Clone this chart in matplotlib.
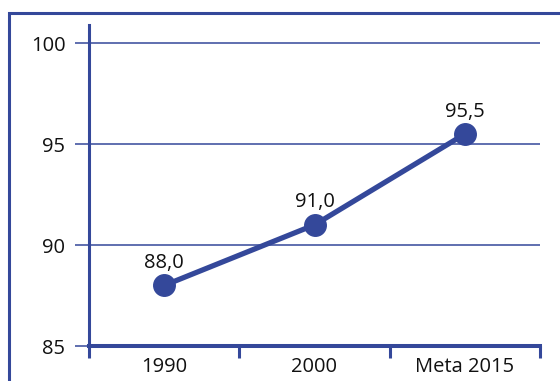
import matplotlib.pyplot as plt
from matplotlib.patches import Rectangle

# taxa por ano
categories = ["1990", "2000", "Meta 2015"]
values = [88.0, 91.0, 95.5]
yticks = [85, 90, 95, 100]

blue = "#34489a"
plt.rcParams["font.family"] = ["Open Sans", "DejaVu Sans"]

fig = plt.figure(figsize=(5.6, 3.81), dpi=100)
ax = fig.add_axes([89 / 560, 35 / 381, 451 / 560, 321 / 381])

# moldura externa
fig.patches.append(Rectangle((9 / 560, -0.1), 1.2, (381 - 12.5) / 381 + 0.1,
                             transform=fig.transFigure, fill=False,
                             edgecolor=blue, linewidth=2.2))

x = list(range(len(categories)))
ax.plot(x, values, color=blue, linewidth=3.8, marker="o", markersize=15.5,
        solid_capstyle="round", zorder=3, clip_on=False)
for xi, v in zip(x, values):
    ax.annotate(f"{v:.1f}".replace(".", ","), (xi, v), xytext=(0, 9),
                textcoords="offset points", ha="center", va="bottom",
                fontsize=14.5, color="#111111")

ax.set_xlim(-0.5, 2.5)
ax.set_ylim(85, 100.9)
ax.set_yticks(yticks)
ax.set_yticklabels([str(t) for t in yticks])
for t in yticks[1:]:
    ax.axhline(t, color=blue, linewidth=1.1, zorder=1)

ax.set_xticks(x)
ax.set_xticklabels(categories)
ax.set_xticks([-0.5, 0.5, 1.5, 2.5], minor=True)

for s in ["top", "right"]:
    ax.spines[s].set_visible(False)
ax.spines["left"].set_color(blue)
ax.spines["left"].set_linewidth(2.2)
ax.spines["bottom"].set_color(blue)
ax.spines["bottom"].set_linewidth(2.9)

ax.tick_params(axis="y", direction="out", length=10, width=1.1, color=blue,
               pad=7, labelsize=14.5, labelcolor="#111111")
ax.tick_params(axis="x", which="major", length=0, pad=8, labelsize=14.5,
               labelcolor="#111111")
ax.tick_params(axis="x", which="minor", direction="out", length=8.5,
               width=2.2, color=blue)

fig.savefig("out.png", dpi=100)
